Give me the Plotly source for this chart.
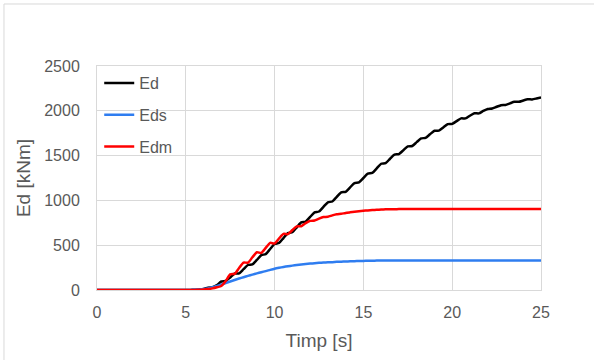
import plotly.graph_objects as go

# time grid, 0.25 s steps from 0 to 25 s
timp = [i * 0.25 for i in range(101)]

# values (kNm), 0..4.75 s all zero
ed = [0] * 20 + [
    0, 1, 3, 7,
    12, 26, 31, 55,
    95, 102, 140, 184,
    186, 232, 279, 286,
    335, 389, 401, 458,
    514, 526, 580, 634,
    646, 700, 754, 764,
    815, 866, 876, 928,
    979, 988, 1040, 1089,
    1096, 1145, 1194, 1201,
    1250, 1299, 1306, 1358,
    1409, 1416, 1465, 1511,
    1517, 1560, 1603, 1607,
    1650, 1692, 1698, 1738,
    1777, 1778, 1815, 1851,
    1854, 1885, 1915, 1915,
    1945, 1972, 1971, 1998,
    2020, 2025, 2045, 2063,
    2065, 2083, 2100, 2100,
    2115, 2128, 2127, 2138,
    2150,
]

eds = [0] * 20 + [
    0, 1, 3, 6,
    10, 18, 30, 45,
    60, 78, 95, 112,
    128, 143, 158, 172,
    186, 199, 211, 225,
    238, 248, 257, 265,
    272, 279, 285, 290,
    295, 299, 303, 306,
    309, 311, 314, 316,
    318, 320, 322, 323,
    325, 326, 327, 328,
    328, 329, 329, 329,
    330, 330, 330, 330,
    330, 330, 330, 330,
    330, 330, 330, 330,
    330, 330, 330, 330,
    330, 330, 330, 330,
    330, 330, 330, 330,
    330, 330, 330, 330,
    330, 330, 330, 330,
    330,
]

edm = [0] * 20 + [
    0, 0, 1, 3,
    5, 10, 18, 30,
    45, 100, 175, 180,
    245, 306, 305, 365,
    421, 414, 470, 526,
    519, 575, 626, 624,
    670, 710, 712, 746,
    771, 776, 797, 814,
    818, 833, 845, 850,
    860, 867, 873, 879,
    884, 888, 892, 895,
    898, 900, 901, 902,
    903, 904, 904, 904,
    904, 904, 904, 904,
    904, 905, 905, 905,
    905, 905, 905, 905,
    905, 905, 905, 905,
    905, 905, 905, 905,
    905, 905, 905, 905,
    905, 905, 905, 905,
    905,
]

series = [("Ed", ed, "#000000"), ("Eds", eds, "#2f7df0"), ("Edm", edm, "#ff0000")]

fig = go.Figure()
for name, vals, col in series:
    fig.add_trace(
        go.Scatter(
            x=timp, y=vals, mode="lines", name=name, legendgroup=name,
            line=dict(color=col, width=2.5, shape="spline", smoothing=0.6),
        )
    )

grid = "#d9d9d9"
txt = "#595959"
fnt = "Liberation Sans, Arial, sans-serif"

fig.update_layout(
    width=594, height=360,
    margin=dict(l=97, r=53, t=66, b=70),
    paper_bgcolor="white", plot_bgcolor="white",
    font=dict(family=fnt, size=16, color=txt),
    legend=dict(
        x=0.005, y=1.0, xanchor="left", yanchor="top",
        bgcolor="rgba(0,0,0,0)", tracegroupgap=8,
        font=dict(family=fnt, size=16, color=txt),
    ),
    showlegend=True,
)
fig.update_xaxes(
    range=[0, 25], dtick=5, tick0=0, showgrid=True, gridcolor=grid, gridwidth=1,
    showline=True, linecolor=grid, mirror=True, zeroline=False,
    ticks="outside", ticklen=8, tickcolor="rgba(0,0,0,0)",
    title=dict(text="Timp [s]", standoff=13),
)
fig.update_yaxes(
    range=[0, 2500], dtick=500, tick0=0, showgrid=True, gridcolor=grid, gridwidth=1,
    showline=True, linecolor=grid, mirror=True, zeroline=False,
    ticks="outside", ticklen=13, tickcolor="rgba(0,0,0,0)",
    title=dict(text="Ed [kNm]", standoff=8),
)
# outer chart border (only top and left edges fall inside the picture)
fig.add_shape(
    type="rect", xref="paper", yref="paper",
    x0=-0.2095, x1=1.3, y0=-0.5, y1=1.2768,
    line=dict(color=grid, width=1), layer="below",
)

# drop the default 8px page margin so the figure sits at the window corner
fig.write_html(
    "out.html",
    config={"displayModeBar": False},
    post_script="document.body.style.margin='0';",
)
